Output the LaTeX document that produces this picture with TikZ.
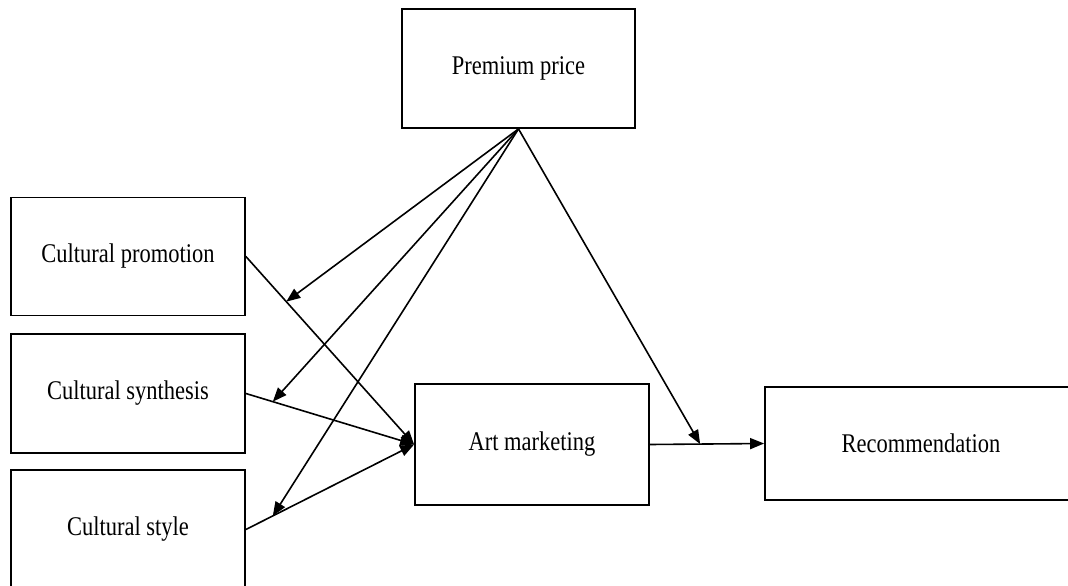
\documentclass[tikz,border=0pt]{standalone}
\usepackage{fontspec}
\setmainfont{Liberation Serif}
\usetikzlibrary{arrows.meta,calc}

\newcommand{\tall}[1]{\scalebox{1}[1.2]{#1}}

\begin{document}
\begin{tikzpicture}[x=1pt, y=-1pt,
    box/.style={draw, line width=1.8pt, inner sep=0pt, font=\fontsize{22.5}{27}\selectfont},
    link/.style={line width=1.6pt, -{Triangle[length=14pt,width=11pt]}}]
    \clip (0,0) rectangle (1068,586);

    \node[box, minimum width=233pt, minimum height=119pt] (price) at (518.5,68.5) {\tall{Premium price}};
    \node[box, minimum width=234pt, minimum height=118pt] (promo) at (128,256.5) {\tall{Cultural promotion}};
    \node[box, minimum width=234pt, minimum height=119pt] (synth) at (128,393.5) {\tall{Cultural synthesis}};
    \node[box, minimum width=234pt, minimum height=119pt] (style) at (128,529.5) {\tall{Cultural style}};
    \node[box, minimum width=234pt, minimum height=121pt] (art) at (532,444.5) {\tall{Art marketing}};
    \node[box, minimum width=312pt, minimum height=113pt] (rec) at (921,443.5) {\tall{Recommendation}};

    % Cultural factors into art marketing
    \draw[link] (promo.east) -- (art.west);
    \draw[link] (synth.east) -- (art.west);
    \draw[link] (style.east) -- (art.west);
    \draw[link] (art.east) -- (rec.west);

    % Moderating effects of premium price
    \coordinate (m1) at ($(promo.east)!0.24!(art.west)$);
    \coordinate (m2) at ($(synth.east)!0.16!(art.west)$);
    \coordinate (m3) at ($(style.east)!0.16!(art.west)$);
    \coordinate (m4) at ($(art.east)!0.44!(rec.west)$);
    \foreach \m in {m1,m2,m3,m4}
        \draw[link] (price.south) -- (\m);
\end{tikzpicture}
\end{document}
